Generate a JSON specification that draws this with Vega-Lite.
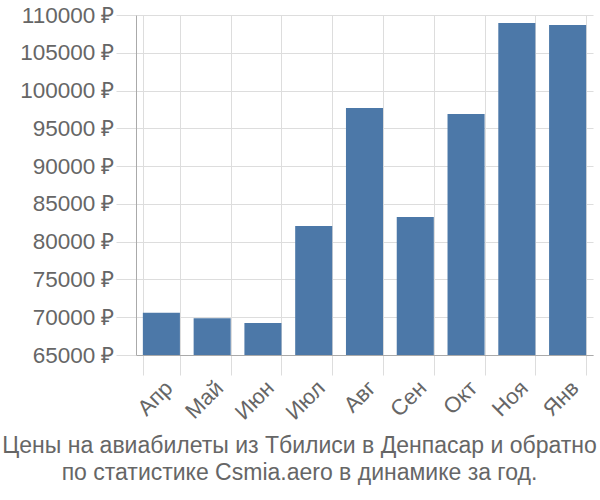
{
  "$schema": "https://vega.github.io/schema/vega-lite/v6.json",
  "width": 457,
  "height": 340,
  "autosize": {"type": "none"},
  "padding": {"left": 136, "top": 15, "right": 7, "bottom": 145},
  "config": {
    "font": "Liberation Sans",
    "view": {"stroke": null}
  },
  "title": {
    "text": ["Цены на авиабилеты из Тбилиси в Денпасар и обратно", "по статистике Csmia.aero в динамике за год."],
    "orient": "bottom",
    "anchor": "middle",
    "dx": -65,
    "offset": 12,
    "fontSize": 23,
    "fontWeight": "normal",
    "color": "#666666",
    "lineHeight": 27
  },
  "data": {
    "values": [
      {"month": "Апр", "price": 70600},
      {"month": "Май", "price": 69860},
      {"month": "Июн", "price": 69240},
      {"month": "Июл", "price": 82070},
      {"month": "Авг", "price": 97690},
      {"month": "Сен", "price": 83260},
      {"month": "Окт", "price": 96900},
      {"month": "Ноя", "price": 108940},
      {"month": "Янв", "price": 108680}
    ]
  },
  "mark": {"type": "bar", "color": "#4c78a8", "clip": true},
  "encoding": {
    "x": {
      "field": "month",
      "type": "nominal",
      "sort": null,
      "scale": {"paddingInner": 0.27, "paddingOuter": 0.135},
      "axis": {
        "title": null,
        "labelAngle": -45,
        "labelFontSize": 22,
        "labelColor": "#666666",
        "tickBand": "extent",
        "tickSize": 20,
        "tickColor": "#dddddd",
        "grid": true,
        "gridColor": "#dddddd",
        "domainColor": "#aaaaaa",
        "labelPadding": 2
      }
    },
    "y": {
      "field": "price",
      "type": "quantitative",
      "scale": {"domain": [65000, 110000], "nice": false, "zero": false},
      "axis": {
        "title": null,
        "values": [65000, 70000, 75000, 80000, 85000, 90000, 95000, 100000, 105000, 110000],
        "labelExpr": "format(datum.value, 'd') + ' ₽'",
        "labelFontSize": 22.5,
        "labelColor": "#666666",
        "tickSize": 20,
        "tickColor": "#dddddd",
        "gridColor": "#dddddd",
        "domainColor": "#aaaaaa",
        "labelPadding": 2
      }
    }
  }
}
